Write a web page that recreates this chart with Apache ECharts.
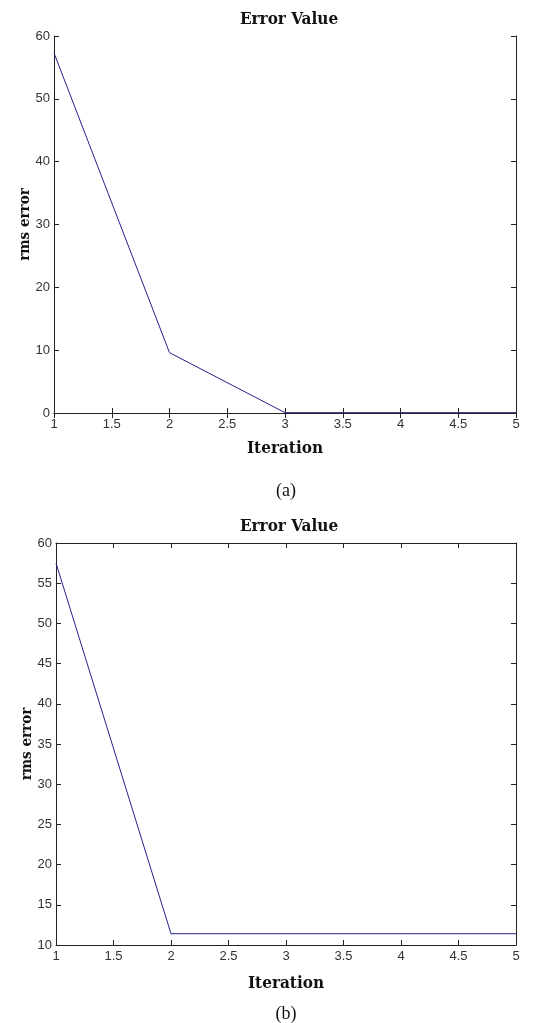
<!DOCTYPE html>
<html>
<head>
<meta charset="utf-8">
<script src="https://cdn.jsdelivr.net/npm/echarts@6/dist/echarts.min.js"></script>
<style>
  html, body { margin: 0; padding: 0; background: #ffffff; }
  #chart { width: 560px; height: 1023px; }
</style>
</head>
<body>
<div id="chart"></div>
<script>
// Iteration numbers shared by both panels
const iterations = [1, 2, 3, 4, 5];
// RMS error per iteration, panel (a)
const rmsErrorA = [57.3, 9.6, 0.05, 0.05, 0.05];
// RMS error per iteration, panel (b)
const rmsErrorB = [57.5, 11.4, 11.4, 11.4, 11.4];
// Panel captions and texts
const panelTitle = 'Error Value';
const captions = ['(a)', '(b)'];
const xName = 'Iteration';
const yName = 'rms error';

const lineColor = '#23238a';
const axisColor = '#222';
const serifFamily = '"DejaVu Serif Condensed", "DejaVu Serif", serif';
const tickFont = { color: '#333', fontFamily: 'Liberation Sans, Arial, sans-serif', fontSize: 13 };
const titleFont = { color: '#111', fontFamily: serifFamily, fontWeight: 'bold', fontSize: 17 };
const xNameFont = { color: '#111', fontFamily: serifFamily, fontWeight: 'bold', fontSize: 17 };
const yNameFont = { color: '#111', fontFamily: serifFamily, fontWeight: 'bold', fontSize: 15 };
const captionFont = { color: '#111', fontFamily: 'Liberation Serif, serif', fontWeight: 'normal', fontSize: 18 };

const grids = [
  { left: 54, right: 44, top: 36, height: 377 },
  { left: 56, right: 44, top: 543, height: 402 }
];
const yRanges = [
  { min: 0, max: 60, interval: 10 },
  { min: 10, max: 60, interval: 5 }
];
const xNameGaps = [27, 30];

function xAxes(gi) {
  const base = {
    type: 'value', gridIndex: gi, min: 1, max: 5, interval: 0.5,
    splitLine: { show: false },
    axisLine: { show: true, lineStyle: { color: axisColor, width: 1 } },
    axisTick: { show: true, inside: true, length: 5, lineStyle: { color: axisColor } }
  };
  return [
    Object.assign({}, base, {
      position: 'bottom',
      name: xName, nameLocation: 'middle', nameGap: xNameGaps[gi],
      nameTextStyle: xNameFont,
      axisLabel: Object.assign({ margin: 5 }, tickFont)
    }),
    Object.assign({}, base, { position: 'top', axisLabel: { show: false } })
  ];
}

function yAxes(gi) {
  const r = yRanges[gi];
  const base = {
    type: 'value', gridIndex: gi, min: r.min, max: r.max, interval: r.interval,
    splitLine: { show: false },
    axisLine: { show: true, lineStyle: { color: axisColor, width: 1 } },
    axisTick: { show: true, inside: true, length: 5, lineStyle: { color: axisColor } }
  };
  return [
    Object.assign({}, base, {
      position: 'left',
      name: yName, nameLocation: 'middle', nameGap: 21, nameRotate: 90,
      nameMoveOverlap: false,
      nameTextStyle: yNameFont,
      axisLabel: Object.assign({ margin: 4 }, tickFont)
    }),
    Object.assign({}, base, { position: 'right', axisLabel: { show: false } })
  ];
}

const option = {
  backgroundColor: '#ffffff',
  animation: false,
  title: [
    { text: panelTitle, left: 284, top: 6, textAlign: 'center', textStyle: titleFont },
    { text: panelTitle, left: 284, top: 513, textAlign: 'center', textStyle: titleFont },
    { text: captions[0], left: 281, top: 477, textAlign: 'center', textStyle: captionFont },
    { text: captions[1], left: 281, top: 1000, textAlign: 'center', textStyle: captionFont }
  ],
  grid: grids,
  xAxis: [].concat(xAxes(0), xAxes(1)),
  yAxis: [].concat(yAxes(0), yAxes(1)),
  series: [
    {
      type: 'line', xAxisIndex: 0, yAxisIndex: 0,
      data: iterations.map((x, i) => [x, rmsErrorA[i]]),
      symbol: 'none', lineStyle: { color: lineColor, width: 1 }
    },
    {
      type: 'line', xAxisIndex: 2, yAxisIndex: 2,
      data: iterations.map((x, i) => [x, rmsErrorB[i]]),
      symbol: 'none', lineStyle: { color: lineColor, width: 1 }
    }
  ]
};

const chart = echarts.init(document.getElementById('chart'), null, { renderer: 'canvas' });
chart.setOption(option);
</script>
</body>
</html>
